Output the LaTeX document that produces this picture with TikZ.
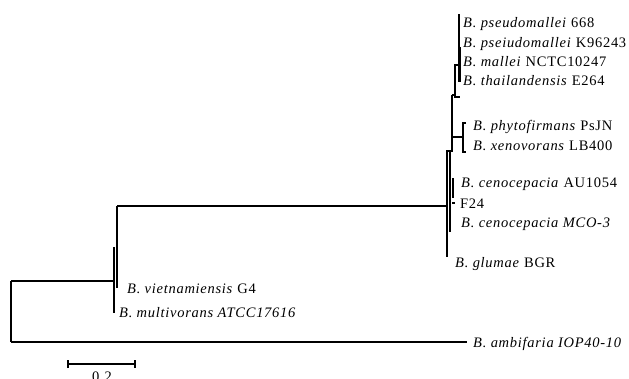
\documentclass[tikz,border=0pt]{standalone}
\usepackage{fontspec}
\setmainfont{Liberation Serif}[LetterSpace=5]
\begin{document}
\begin{tikzpicture}[x=1pt,y=-1pt,
  branch/.style={line width=1.6pt, line cap=butt},
  thickbranch/.style={line width=2.5pt},
  taxon/.style={anchor=base west, inner sep=0pt, font=\fontsize{14.5}{17}\selectfont},
  scalelabel/.style={anchor=base, inner sep=0pt, font=\fontsize{14.5}{17}\selectfont}]
\useasboundingbox (0,0) rectangle (629,378);
% ---------- coordinates of the tree ----------
\coordinate (root-t) at (11,281);
\coordinate (root-b) at (11,342);
\coordinate (nA-t) at (114,247);
\coordinate (nA-m) at (114,281);
\coordinate (nA-b) at (114,313);
\coordinate (nB-t) at (117,206);
\coordinate (nB-b) at (117,288);
\coordinate (amb-end) at (467,342);
\coordinate (nC-t) at (447,151);
\coordinate (nC-m) at (447,206);
\coordinate (nC-b) at (447,257);
\coordinate (nD-t) at (450,151);
\coordinate (nD-b) at (450,232);
\coordinate (nE-t) at (452,95);
\coordinate (nE-b) at (452,151);
\coordinate (nE-m) at (452,137);
\coordinate (nF-t) at (455,95);
\coordinate (nF-u) at (455,65);
\coordinate (nF-b) at (460,97);
\coordinate (nG-t) at (459,14);
\coordinate (nG-u) at (459,65);
\coordinate (nG-b) at (459,82);
\coordinate (nG2-t) at (460.6,47);
\coordinate (nG2-b) at (460.6,82);
\coordinate (nH-m) at (463,137);
\coordinate (nH-t) at (463,123);
\coordinate (nH-b) at (463,152);
\coordinate (phy-end) at (466,123);
\coordinate (xen-end) at (466,152);
\coordinate (cen-t) at (453,178);
\coordinate (cen-b) at (453,198);
\coordinate (f24-a) at (452,203);
\coordinate (f24-b) at (455,203);
% ---------- branches ----------
\draw[branch] (root-t) -- (root-b);
\draw[branch] (root-t) -- (nA-m);
\draw[branch] (root-b) -- (amb-end);
\draw[branch] (nA-t) -- (nA-b);
\draw[branch] (nB-t) -- (nB-b);
\draw[branch] (nB-t) -- (nC-m);
\draw[branch] (nE-t) -- (nE-b) -- (nC-t) -- (nC-b);
\draw[branch] (nC-t) -- (nD-t) -- (nD-b);
\draw[branch] (nE-t) -- (nF-t) -- (nF-u) -- (nG-u);
\draw[branch] (nF-t) |- (nF-b);
\draw[branch] (nG-t) -- (nG-b);
\draw[branch] (nG2-t) -- (nG2-b);
\draw[branch] (nE-m) -- (nH-m);
\draw[branch] (phy-end) -- (nH-t) -- (nH-b) -- (xen-end);
\draw[thickbranch] (cen-t) -- (cen-b);
\draw[branch] (f24-a) -- (f24-b);
% ---------- taxa ----------
\node[taxon] (t1) at (463,27) {\textit{B. pseudomallei} 668};
\node[taxon] (t2) at (463,47) {\textit{B. pseiudomallei} K96243};
\node[taxon] (t3) at (463,66) {\textit{B. mallei} NCTC10247};
\node[taxon] (t4) at (463,85.5) {\textit{B. thailandensis} E264};
\node[taxon] (t5) at (473,130.5) {\textit{B. phytofirmans} PsJN};
\node[taxon] (t6) at (473,150) {\textit{B. xenovorans} LB400};
\node[taxon] (t7) at (461,187) {\textit{B. cenocepacia} AU1054};
\node[taxon] (t8) at (460,208) {F24};
\node[taxon] (t9) at (461,227.5) {\textit{B. cenocepacia MCO-3}};
\node[taxon] (t10) at (455,267) {\textit{B. glumae} BGR};
\node[taxon] (t11) at (127,293) {\textit{B. vietnamiensis} G4};
\node[taxon] (t12) at (119,317) {\textit{B. multivorans ATCC17616}};
\node[taxon] (t13) at (473,347) {\textit{B. ambifaria IOP40-10}};
% ---------- scale bar ----------
\coordinate (sb-l) at (68,364);
\coordinate (sb-r) at (135,364);
\draw[branch] (sb-l) -- (sb-r);
\draw[branch] ([yshift=-4]sb-l) -- ([yshift=4]sb-l);
\draw[branch] ([yshift=-4]sb-r) -- ([yshift=4]sb-r);
\node[scalelabel] (sbl) at (102,381) {0.2};
\end{tikzpicture}
\end{document}
